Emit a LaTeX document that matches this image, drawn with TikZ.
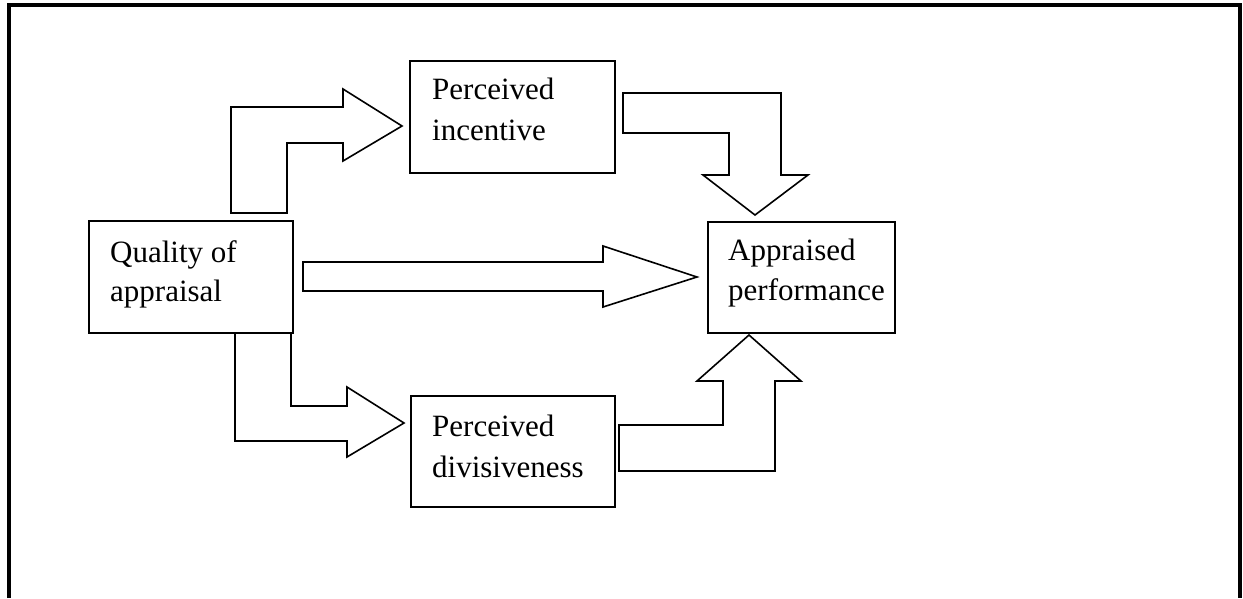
\documentclass[tikz,border=0pt]{standalone}
\usepackage{fontspec}
\setmainfont{Liberation Serif}
\begin{document}
\begin{tikzpicture}[x=1pt,y=-1pt,
  box/.style={draw,line width=1.6pt,inner sep=0pt},
  blockarrow/.style={draw,line width=1.6pt,line join=miter,fill=white},
  txt/.style={anchor=base west,inner sep=0pt,font=\fontsize{31}{40}\selectfont},
  frame/.style={line width=3.6pt}]
\useasboundingbox (0,0) rectangle (1243,598);
% outer frame (open at bottom)
\coordinate (fbl) at (9,598);
\coordinate (ftl) at (9,5);
\coordinate (ftr) at (1240,5);
\coordinate (fbr) at (1240,598);
\draw[frame] (fbl) -- (ftl) -- (ftr) -- (fbr);
% boxes
\node[box,minimum width=204pt,minimum height=112pt] (qa) at (191,277) {};
\node[box,minimum width=205pt,minimum height=112pt] (pi) at (512.5,117) {};
\node[box,minimum width=187pt,minimum height=111pt] (ap) at (801.5,277.5) {};
\node[box,minimum width=204pt,minimum height=111pt] (pd) at (513,451.5) {};
% texts
\node[txt] (qa1) at (110,262) {Quality of};
\node[txt] (qa2) at (110,301) {appraisal};
\node[txt] (pi1) at (432,99) {Perceived};
\node[txt] (pi2) at (432,140) {incentive};
\node[txt] (ap1) at (728,260) {Appraised};
\node[txt] (ap2) at (728,300) {performance};
\node[txt] (pd1) at (432,436) {Perceived};
\node[txt] (pd2) at (432,477) {divisiveness};
% block arrows
\draw[blockarrow] (231,213) -- (231,107) -- (343,107) -- (343,89) -- (402,126)
  -- (343,161) -- (343,143) -- (287,143) -- (287,213) -- cycle;
\draw[blockarrow] (623,93) -- (781,93) -- (781,175) -- (808,175) -- (755,215)
  -- (703,175) -- (729,175) -- (729,133) -- (623,133) -- cycle;
\draw[blockarrow] (303,262) -- (603,262) -- (603,246) -- (697,277) -- (603,307)
  -- (603,291) -- (303,291) -- cycle;
\draw[blockarrow] (235,334) -- (235,441) -- (347,441) -- (347,457) -- (404,423)
  -- (347,387) -- (347,406) -- (291,406) -- (291,334);
\draw[blockarrow] (619,471) -- (775,471) -- (775,381) -- (801,381) -- (749,335)
  -- (697,381) -- (723,381) -- (723,425) -- (619,425) -- cycle;
\end{tikzpicture}
\end{document}
